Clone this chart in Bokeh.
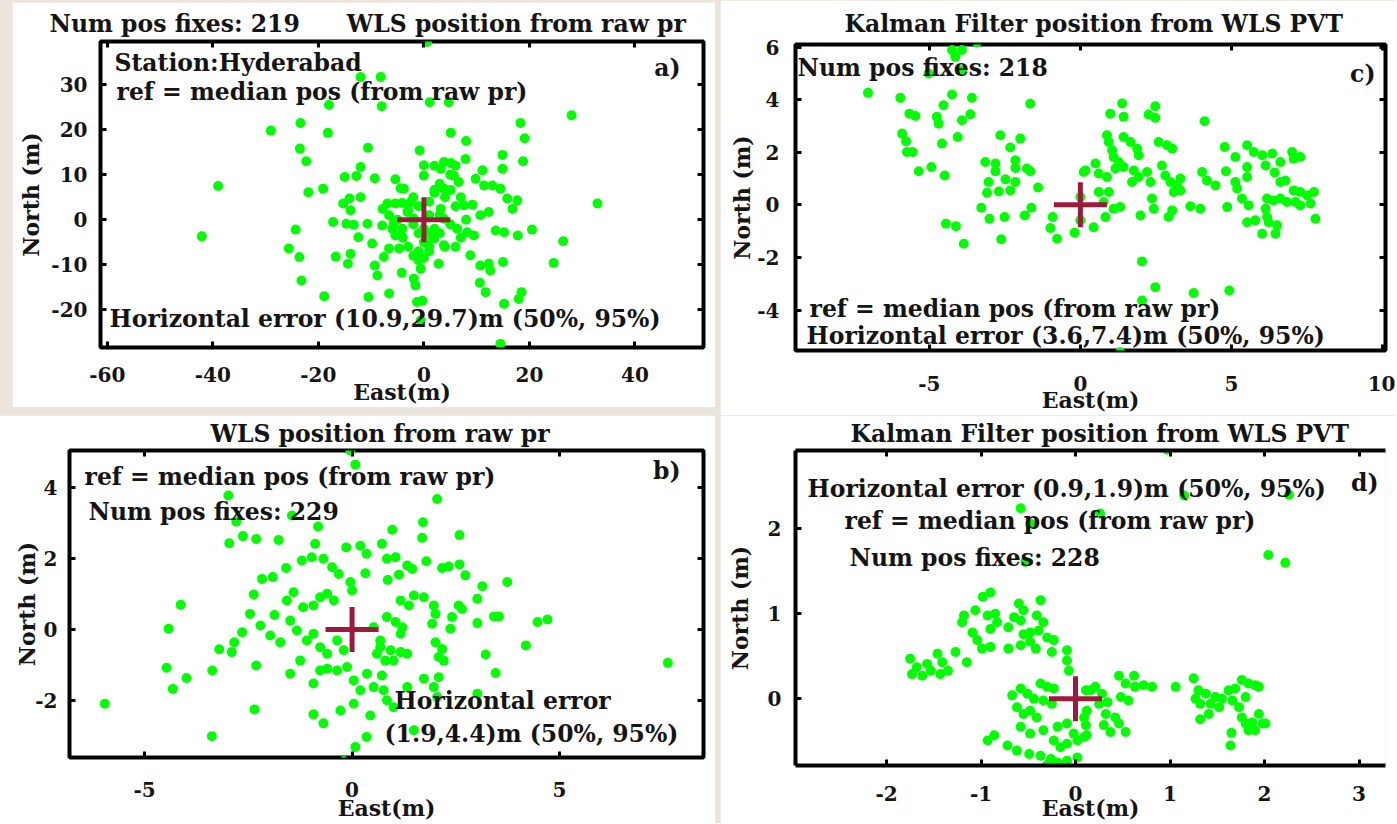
from bokeh.plotting import figure
from bokeh.models import Label, LinearAxis, Range1d, FixedTicker, Title
from bokeh.layouts import row, column
from bokeh.embed import file_html
from bokeh.resources import INLINE

FONT = "DejaVu Serif"
GREEN = "#00ff00"
CROSS = "#9b1b3b"
BEIGE = "#ece5dc"
TXT = "#141414"

# ---------------- data (East, North) in metres ----------------
ref_e = [0.0]
ref_n = [0.0]

a_fixes = [
    (-12.0, 31.7), (-8.2, 31.7), (-18.0, 25.5), (-8.0, 25.2), (-29.0, 19.8), (-23.4, 21.5),
    (-18.2, 19.3), (-23.5, 15.8), (-22.3, 13.0), (-10.6, 16.0), (-39.0, 7.5), (-42.1, -3.7),
    (-21.9, 6.1), (-19.1, 6.9), (-15.0, 9.5), (-12.8, 9.7), (-12.0, 11.7), (-9.3, 9.2),
    (-5.4, 9.0), (-4.4, 7.0), (-12.0, 5.0), (-14.1, 4.7), (-15.3, 3.6), (-13.9, 2.1),
    (-17.2, -0.5), (-14.7, -0.9), (-13.3, -1.1), (-10.7, -0.9), (-7.8, 2.4), (-6.9, 3.6),
    (-7.9, -1.3), (-5.4, 3.6), (-4.1, 3.7), (-24.3, -2.2), (-25.6, -6.4), (-23.6, -8.3),
    (-23.2, -13.5), (-16.7, -8.2), (-14.4, -9.8), (-13.9, -7.6), (-12.4, -3.9), (-9.8, -5.3),
    (-9.3, -10.2), (-8.8, -12.4), (-7.6, -8.3), (-6.6, -6.4), (-18.9, -17.0), (-10.5, -17.2),
    (-6.6, -16.4), (-4.2, -11.8), (-5.4, -3.5), (-4.7, -6.4), (-4.1, -2.0), (-6.6, 1.0),
    (-5.7, -0.7),
    (0.6, 39.5), (1.1, 26.1), (4.7, 26.1), (28.0, 23.2), (18.3, 21.5), (19.1, 18.1),
    (5.1, 19.3), (8.0, 17.5), (-0.8, 15.4), (14.9, 14.4), (18.8, 13.0), (3.8, 12.8),
    (5.1, 12.6), (7.9, 13.5), (3.2, 11.3), (0.0, 12.1), (0.0, 9.8), (5.7, 9.8),
    (11.1, 11.0), (14.9, 11.3), (6.6, 8.4), (9.8, 9.1), (11.4, 7.6), (13.0, 7.6),
    (14.5, 6.9), (3.8, 6.9), (2.0, 6.6), (5.1, 6.6), (15.8, 4.7), (17.7, 4.3),
    (32.9, 3.6), (7.6, 3.2), (9.2, 3.3), (10.7, 1.0), (12.3, 1.7), (16.8, 2.4),
    (-3.8, 6.9), (-2.5, 3.9), (-3.1, 1.7), (-1.9, 0.2), (3.2, 2.4), (3.8, 0.2),
    (6.3, -2.0), (8.2, -2.8), (9.5, -3.5), (13.6, -2.4), (15.2, -2.8), (17.8, -3.5),
    (20.5, -2.2), (26.4, -4.8), (24.6, -9.6), (8.8, -7.9), (10.7, -10.2), (12.3, -9.8),
    (12.6, -11.3), (15.0, -9.4), (2.8, -9.8), (10.6, -14.0), (11.7, -16.1), (18.5, -16.1),
    (18.0, -17.6), (15.2, -18.7), (-1.3, -18.3), (-0.3, -18.0), (-0.6, -22.4), (14.5, -27.6),
    (-1.9, -13.1), (-0.6, -10.9), (-1.6, -14.6), (0.0, -5.0), (-1.0, -7.0), (1.0, -6.0),
    (-2.0, -8.0), (0.0, -8.5), (2.0, -4.0), (1.0, -3.0), (0.3, -5.0), (1.9, -4.2),
    (3.8, -5.7), (-3.0, 2.0), (-2.0, -1.0), (-1.0, 3.0), (1.0, 4.0), (2.0, -2.0),
    (3.0, 1.0), (4.0, 5.0), (5.0, -1.0), (-4.0, -4.0), (2.0, 6.0), (3.0, 8.0),
    (1.0, -7.0), (-2.0, 5.0), (4.0, -6.0), (6.0, 3.0), (7.0, -4.0), (-5.0, 0.0),
    (-6.0, -2.0), (5.0, 10.0), (6.0, 12.0), (2.0, 12.0), (-1.0, -3.0), (0.0, -2.0),
    (3.0, -3.0), (1.0, 1.0), (6.0, -6.0), (8.0, 0.0), (7.0, 5.0), (-3.0, -6.0), (-1.0, -9.0),
]

b_fixes = [
    (-0.04, 5.06), (0.08, 4.66), (-2.98, 3.79), (-2.79, 3.05), (-1.45, 3.22), (-0.82, 2.91),
    (-2.96, 2.44), (-2.63, 2.64), (-2.31, 2.56), (-1.77, 2.53), (-0.89, 2.42), (-0.14, 2.32),
    (0.2, 2.37), (0.35, 2.14), (-1.21, 1.95), (-0.97, 2.04), (-0.69, 2.0), (-0.48, 1.76),
    (-0.32, 1.57), (-1.59, 1.74), (-2.17, 1.43), (-1.91, 1.48), (-0.04, 1.34), (0.0, 1.1),
    (0.32, 1.59), (-2.37, 0.99), (-4.13, 0.7), (-2.46, 0.44), (-1.87, 0.41), (-1.57, 0.82),
    (-1.41, 1.05), (-1.18, 0.63), (-0.93, 0.68), (-0.77, 0.91), (-0.6, 1.01), (-0.44, 0.82),
    (-2.21, 0.11), (-1.97, -0.17), (-1.73, -0.36), (-1.49, 0.25), (-1.33, -0.03), (-1.09, -0.31),
    (-0.93, -0.12), (-0.77, -0.5), (-0.6, -0.69), (-0.36, -0.31), (-0.2, -0.59), (-4.42, 0.02),
    (-2.65, -0.08), (-2.84, -0.36), (-3.2, -0.56), (-2.9, -0.64), (-4.47, -1.08), (-3.99, -1.37),
    (-4.32, -1.68), (-3.37, -1.16), (-2.31, -1.02), (-1.49, -1.25), (-1.25, -0.88), (-0.93, -1.53),
    (-0.77, -1.16), (-0.6, -1.11), (-0.36, -1.16), (-0.12, -1.06), (-5.96, -2.1), (-2.35, -2.26),
    (-0.93, -2.4), (-0.69, -2.65), (-0.28, -2.29), (0.04, -2.1), (0.44, -2.43), (-3.38, -3.02),
    (0.35, -3.04), (0.08, -3.32), (-0.2, -3.72), (0.04, -1.44), (0.2, -1.72), (0.36, -1.25),
    (0.52, -1.63), (0.52, 0.06), (0.68, -0.31), (0.6, -0.69),
    (2.05, 3.69), (1.71, 3.03), (0.97, 2.82), (1.69, 2.59), (2.59, 2.67), (0.72, 2.42),
    (0.84, 2.0), (1.05, 2.04), (1.33, 1.81), (1.45, 1.71), (1.79, 1.93), (2.17, 1.74),
    (2.33, 1.78), (2.59, 1.84), (2.73, 1.53), (0.86, 1.4), (1.13, 1.55), (3.14, 1.22),
    (3.74, 1.34), (3.02, 0.87), (1.49, 0.96), (1.73, 0.91), (1.17, 0.82), (1.37, 0.68),
    (1.97, 0.68), (2.01, 0.44), (2.57, 0.68), (2.65, 0.58), (2.41, 0.35), (3.42, 0.37),
    (3.54, 0.37), (4.47, 0.21), (4.71, 0.28), (3.02, 0.18), (0.84, 0.35), (1.05, 0.21),
    (1.21, 0.06), (1.17, -0.12), (1.93, 0.16), (2.37, 0.02), (4.19, -0.45), (3.22, -0.71),
    (2.01, -0.36), (2.17, -0.55), (2.09, -0.78), (2.21, -0.88), (7.61, -0.94), (3.46, -1.23),
    (0.68, -0.5), (0.93, -0.59), (1.17, -0.64), (1.33, -0.69), (0.8, -0.88), (1.0, -0.88),
    (0.72, -1.3), (1.73, -1.39), (2.09, -1.35), (1.97, -1.63), (1.33, -1.63), (0.76, -1.72),
    (0.84, -2.0), (1.0, -2.2), (3.02, -1.82), (1.49, -2.85), (2.05, -1.91),
]

c_fixes = [
    (-4.25, 5.89), (-3.92, 5.89), (-4.14, 5.63), (-3.42, 6.18), (-5.02, 5.0), (-3.92, 5.12),
    (-7.03, 4.26), (-5.96, 4.07), (-4.25, 4.2), (-3.59, 4.07), (-1.66, 3.85), (-4.53, 3.79),
    (-5.66, 3.47), (-5.46, 3.38), (-4.75, 3.35), (-4.69, 3.09), (-3.92, 3.22), (-3.64, 3.45),
    (-5.9, 2.71), (-5.77, 2.42), (-4.06, 2.58), (-4.58, 2.33), (-5.74, 2.01), (-5.55, 2.01),
    (-2.65, 2.65), (-1.99, 2.52), (-2.32, 2.18), (-5.35, 1.28), (-4.93, 1.44), (-4.49, 1.12),
    (-3.15, 1.63), (-2.81, 1.57), (-2.81, 1.28), (-2.15, 1.7), (-2.15, 1.4), (-1.77, 1.38),
    (-1.66, 1.28), (-3.04, 0.87), (-2.48, 0.97), (-2.15, 0.87), (-3.09, 0.46), (-2.7, 0.51),
    (-2.32, 0.55), (-1.4, 0.66), (-3.28, -0.11), (-1.62, -0.11), (-1.84, -0.4), (-3.01, -0.53),
    (-2.51, -0.46), (-4.45, -0.72), (-4.12, -0.81), (-3.86, -1.48), (-2.62, -1.31), (-0.92, -0.46),
    (-0.99, -0.88), (-0.77, -1.29), (-0.19, -1.06), (0.11, 1.25), (0.0, 0.3), (0.0, -0.59),
    (1.38, 3.86), (0.99, 3.47), (1.43, 3.35), (2.48, 3.75), (2.26, 3.44), (2.48, 3.31),
    (4.11, 3.18), (0.88, 2.65), (0.94, 2.39), (1.05, 2.08), (1.43, 2.58), (1.66, 2.39),
    (1.88, 2.14), (1.93, 1.89), (2.59, 2.39), (2.87, 2.27), (3.04, 2.14), (1.1, 1.82),
    (1.27, 1.63), (1.16, 1.38), (1.43, 1.44), (0.5, 1.57), (0.61, 1.19), (0.88, 1.06),
    (0.17, 1.31), (1.77, 1.31), (1.93, 1.06), (1.71, 0.87), (2.21, 1.25), (2.32, 0.87),
    (2.7, 1.5), (2.81, 1.12), (2.98, 0.87), (3.2, 0.74), (3.31, 1.0), (3.09, 0.49),
    (3.31, 0.55), (4.03, 1.25), (4.19, 0.93), (4.47, 0.74), (4.82, 1.28), (4.78, 2.2),
    (5.13, 1.82), (5.52, 2.27), (5.74, 2.01), (6.02, 1.89), (6.35, 1.95), (7.01, 2.01),
    (7.06, 1.76), (7.28, 1.82), (6.13, 1.5), (6.62, 1.63), (5.52, 1.44), (6.43, 1.23),
    (5.13, 0.87), (5.19, 0.62), (5.52, 1.06), (4.86, -0.08), (5.35, 0.24), (5.57, -0.02),
    (6.62, 0.87), (6.79, 0.93), (7.06, 0.55), (7.28, 0.49), (7.51, 0.36), (7.73, 0.49),
    (6.18, 0.24), (6.4, 0.17), (6.62, 0.24), (6.84, 0.11), (7.12, 0.11), (7.28, -0.02),
    (7.62, 0.05), (7.78, -0.53), (6.13, -0.15), (6.18, -0.46), (6.23, -0.66), (5.52, -0.66),
    (5.79, -0.59), (6.02, -1.1), (6.46, -1.1), (6.51, -0.78), (3.64, -0.05), (3.97, -0.15),
    (2.92, -0.46), (3.04, -0.21), (2.43, -0.15), (2.37, 0.24), (1.99, -0.4), (1.1, -0.15),
    (1.32, -0.08), (0.83, -0.46), (0.44, -0.85), (0.77, 0.11), (0.61, 0.49), (0.94, 0.49),
    (2.04, -2.15), (2.48, -3.13), (3.75, -3.35), (4.93, -3.26), (2.04, -3.64), (1.32, -5.61),
]

d_fixes = [
    (-0.58, 2.24), (-0.48, 2.06), (-0.53, 1.61), (-0.9, 1.25), (-0.98, 1.2), (-0.37, 1.16),
    (-0.6, 1.12), (-0.55, 1.04), (-0.65, 0.96), (-0.58, 0.92), (-1.06, 1.04), (-1.18, 0.98),
    (-1.2, 0.9), (-0.93, 0.98), (-0.85, 1.0), (-0.83, 0.9), (-0.9, 0.82), (-0.41, 0.98),
    (-0.34, 0.9), (-0.71, 0.84), (-0.55, 0.76), (-0.48, 0.78), (-0.39, 0.8), (-0.3, 0.72),
    (-1.09, 0.78), (-1.04, 0.69), (-0.99, 0.59), (-0.9, 0.61), (-0.71, 0.59), (-0.58, 0.63),
    (-0.48, 0.67), (-0.42, 0.59), (-0.23, 0.69), (-0.25, 0.55), (-0.09, 0.57), (-0.09, 0.45),
    (-0.07, 0.33), (-1.75, 0.47), (-1.68, 0.37), (-1.73, 0.29), (-1.62, 0.27), (-1.57, 0.41),
    (-1.53, 0.33), (-1.46, 0.53), (-1.41, 0.43), (-1.35, 0.33), (-1.43, 0.29), (-1.27, 0.55),
    (-1.15, 0.43), (-0.67, 0.04), (-0.58, 0.12), (-0.51, 0.06), (-0.44, 0.0), (-0.62, -0.1),
    (-0.55, -0.18), (-0.48, -0.14), (-0.41, -0.22), (-0.37, 0.18), (-0.3, 0.14), (-0.23, 0.12),
    (-0.34, -0.02), (-0.25, -0.06), (-0.58, -0.33), (-0.48, -0.41), (-0.86, -0.43), (-0.93, -0.49),
    (-0.72, -0.55), (-0.62, -0.61), (-0.49, -0.65), (-0.34, -0.37), (-0.19, -0.33), (-0.09, -0.29),
    (-0.02, -0.41), (-0.23, -0.49), (-0.16, -0.57), (-0.09, -0.53), (0.02, -0.49), (0.09, -0.45),
    (-0.37, -0.67), (-0.26, -0.71), (-0.19, -0.75), (-0.09, -0.73), (0.02, -0.69), (-0.3, -0.78),
    (-0.16, -0.8), (0.12, -0.14), (0.09, -0.22), (0.16, 0.1),
    (0.97, 2.93), (1.15, 2.39), (2.26, 2.4), (0.26, 2.18), (2.04, 1.69), (2.22, 1.6),
    (0.11, 0.1), (0.21, 0.14), (0.28, 0.06), (0.25, -0.06), (0.34, -0.04), (0.46, 0.27),
    (0.53, 0.18), (0.62, 0.27), (0.63, 0.14), (0.48, 0.02), (0.56, -0.02), (0.72, 0.16),
    (0.81, 0.14), (1.06, 0.14), (1.25, 0.24), (1.3, 0.1), (1.38, 0.06), (1.27, 0.0),
    (1.32, -0.06), (1.43, -0.06), (1.48, 0.02), (1.55, 0.0), (1.52, -0.1), (1.62, 0.1),
    (1.69, 0.12), (1.76, 0.22), (1.83, 0.18), (1.9, 0.16), (1.94, 0.14), (1.66, -0.02),
    (1.73, -0.1), (1.8, 0.02), (1.32, -0.24), (1.41, -0.18), (1.76, -0.22), (1.8, -0.29),
    (1.87, -0.28), (1.94, -0.18), (1.98, -0.29), (1.9, -0.37), (1.83, -0.37), (2.01, -0.29),
    (1.65, -0.4), (1.64, -0.55), (0.32, -0.18), (0.42, -0.22), (0.3, -0.31), (0.46, -0.29),
    (0.37, -0.39), (0.53, -0.39), (0.11, -0.31), (0.12, -0.43),
]

a_xticks = [-60, -40, -20, 0, 20, 40]
a_yticks = [-20, -10, 0, 10, 20, 30]
b_xticks = [-5, 0, 5]
b_yticks = [-2, 0, 2, 4]
c_xticks = [-5, 0, 5, 10]
c_yticks = [-4, -2, 0, 2, 4, 6]
d_xticks = [-2, -1, 0, 1, 2, 3]
d_yticks = [0, 1, 2]

a_title = "Num pos fixes: 219\u2003\u2003WLS position from raw pr"
b_title = "WLS position from raw pr"
c_title = "Kalman Filter position from WLS PVT"
d_title = "Kalman Filter position from WLS PVT"

a_texts = [
    ("Station:Hyderabad", 114, 62, "left"),
    ("ref = median pos (from raw pr)", 116, 91, "left"),
    ("a)", 680, 67, "right"),
    ("Horizontal error (10.9,29.7)m (50%, 95%)", 109, 318, "left"),
]
b_texts = [
    ("ref = median pos (from raw pr)", 84, 476, "left"),
    ("Num pos fixes: 229", 88, 511, "left"),
    ("b)", 680, 470, "right"),
    ("Horizontal error", 394, 700, "left"),
    ("(1.9,4.4)m (50%, 95%)", 384, 733, "left"),
]
c_texts = [
    ("Num pos fixes: 218", 797, 67, "left"),
    ("c)", 1375, 73, "right"),
    ("ref = median pos (from raw pr)", 809, 308, "left"),
    ("Horizontal error (3.6,7.4)m (50%, 95%)", 806, 335, "left"),
]
d_texts = [
    ("Horizontal error  (0.9,1.9)m (50%, 95%)", 807, 488, "left"),
    ("ref = median pos (from raw pr)", 844, 520, "left"),
    ("Num pos fixes: 228", 849, 557, "left"),
    ("d)", 1378, 482, "right"),
]


def style_axis(ax, ticks, show, standoff=0, label_standoff=0):
    ax.ticker = FixedTicker(ticks=ticks)
    ax.axis_line_color = None
    ax.major_tick_in = 6
    ax.major_tick_out = 0
    ax.major_tick_line_width = 3
    ax.major_tick_line_color = "black"
    ax.minor_tick_line_color = None
    ax.major_label_text_font = FONT
    ax.major_label_text_font_style = "bold"
    ax.major_label_text_color = TXT
    ax.axis_label_text_font = FONT
    ax.axis_label_text_font_style = "bold"
    ax.axis_label_text_color = TXT
    ax.axis_label_text_font_size = "22px"
    if show:
        ax.major_label_overrides = {t: str(t) for t in ticks}
        ax.major_label_text_font_size = "20px"
        ax.major_label_standoff = standoff
        ax.axis_label_standoff = label_standoff
    else:
        ax.major_label_overrides = {t: "" for t in ticks}
        ax.major_label_text_font_size = "1px"
        ax.major_label_standoff = 0


def make_panel(fixes, size, borders, xr, yr, xticks, yticks, title, title_dx,
               title_standoff, texts, xstand, xlab_stand, ystand, ylab_stand, origin,
               open_right=False):
    fw, fh = size
    bl, br, bt, bb = borders
    ox, oy = origin                       # page position of the figure's top-left
    l, t = ox + bl, oy + bt               # page position of the frame
    r, b = ox + fw - br, oy + fh - bb
    east = [e for e, n in fixes]
    north = [n for e, n in fixes]
    p = figure(width=fw, height=fh, x_range=Range1d(*xr), y_range=Range1d(*yr),
               output_backend="svg", toolbar_location=None, title=None,
               min_border_left=bl, min_border_right=br,
               min_border_top=bt, min_border_bottom=bb,
               x_axis_label="East(m)", y_axis_label="North (m)")
    p.background_fill_color = "white"
    p.border_fill_color = "white"
    p.grid.visible = False
    style_axis(p.below[0], xticks, True, xstand, xlab_stand)
    style_axis(p.left[0], yticks, True, ystand, ylab_stand)
    top = LinearAxis()
    style_axis(top, xticks, False)
    right = LinearAxis()
    style_axis(right, yticks, False)
    p.add_layout(top, "above")
    p.add_layout(right, "right")
    if open_right:
        # the box runs past the right edge of the picture: no right-hand border
        p.outline_line_color = None
        for ax in (p.below[0], p.left[0], top):
            ax.axis_line_color = "black"
            ax.axis_line_width = 4
        right.major_tick_line_color = None
    else:
        p.outline_line_color = "black"
        p.outline_line_width = 4
    p.add_layout(Title(text=title, align="left", offset=title_dx,
                       standoff=title_standoff, text_font=FONT, text_font_style="bold",
                       text_font_size="23.5px", text_color=TXT), "above")

    p.scatter(east, north, size=10, marker="circle", fill_color=GREEN, line_color=None)
    p.rect(x=ref_e, y=ref_n, width=53, height=5, width_units="screen",
           height_units="screen", fill_color=CROSS, line_color=None)
    p.rect(x=ref_e, y=ref_n, width=5, height=45, width_units="screen",
           height_units="screen", fill_color=CROSS, line_color=None)

    x0, x1 = xr
    y0, y1 = yr
    for text, px, py, align in texts:
        xd = x0 + (px - l) / (r - l) * (x1 - x0)
        yd = y1 - (py - t) / (b - t) * (y1 - y0)
        p.add_layout(Label(x=xd, y=yd, text=text, text_font=FONT, text_font_style="bold",
                           text_font_size="23.5px", text_align=align,
                           text_baseline="middle", text_color=TXT))
    return p


# size=(w, h), borders=(left, right, top, bottom), origin = page position.
# Plots stacked in a column get equal left/right borders, so panel b is shifted
# left with a negative margin instead of using a narrower border.
pa = make_panel(a_fixes, (703, 405), (88, 12, 39, 60), (-61.3, 53.0), (-28.4, 39.6),
                a_xticks, a_yticks, a_title, -51, 8, a_texts, 19, -6, 13, 4, (12, 2))
pb = make_panel(b_fixes, (734, 408), (88, 12, 35, 66), (-6.81, 8.47), (-3.62, 5.06),
                b_xticks, b_yticks, b_title, 141, 5, b_texts, 24, -5, 12, -8, (-19, 415))
pc = make_panel(c_fixes, (675, 415), (75, 10, 44, 65), (-9.43, 10.1), (-5.54, 6.10),
                c_xticks, c_yticks, c_title, 49, 13, c_texts, 25, -7, 16, -1, (720, 0))
pd = make_panel(d_fixes, (675, 408), (75, 10, 35, 58), (-2.963, 3.28), (-0.785, 2.92),
                d_xticks, d_yticks, d_title, 55, 5, d_texts, 20, -9, 14, 12, (720, 415),
                open_right=True)

pa.margin = (2, 19, 0, 12)
pb.margin = (0, 0, 0, -19)

left_col = column(pa, pb, spacing=8)
right_col = column(pc, pd, spacing=0, margin=(0, 0, 0, -14))
root = row(left_col, right_col, spacing=0, styles={"background-color": BEIGE})

open("out.html", "w").write(file_html(root, INLINE))
